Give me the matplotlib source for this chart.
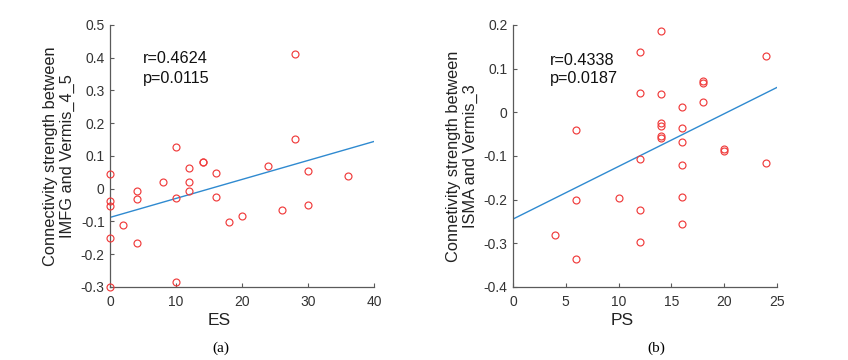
import numpy as np
import matplotlib
matplotlib.use("Agg")
import matplotlib.pyplot as plt

plt.rcParams["font.family"] = ["Liberation Sans", "DejaVu Sans"]
plt.rcParams["axes.unicode_minus"] = False

# panel (a): ES vs IMFG-Vermis_4_5
es = [28, 10, 28, 14, 14, 12, 16, 0, 8, 12, 24, 30, 36, 4, 12, 4, 10, 16, 0, 0,
      30, 26, 2, 18, 20, 0, 4, 10, 0]
conn_a = [0.411, 0.127, 0.153, 0.080, 0.082, 0.062, 0.047, 0.045, 0.021, 0.021,
          0.070, 0.0525, 0.040, -0.008, -0.008, -0.032, -0.030, -0.025, -0.039, -0.052,
          -0.050, -0.064, -0.112, -0.101, -0.084, -0.152, -0.165, -0.285, -0.299]

# panel (b): PS vs ISMA-Vermis_3
ps = [14, 12, 24, 18, 18, 12, 14, 18, 16, 14, 14, 6, 16, 14, 14, 16, 20, 20,
      12, 16, 24, 10, 16, 6, 12, 16, 4, 12, 6]
conn_b = [0.187, 0.138, 0.128, 0.071, 0.066, 0.044, 0.042, 0.024, 0.012, -0.025,
          -0.032, -0.041, -0.037, -0.055, -0.060, -0.068, -0.084, -0.089, -0.106, -0.122,
          -0.117, -0.197, -0.195, -0.202, -0.223, -0.255, -0.280, -0.297, -0.335]

panels = [
    dict(x=es, y=conn_a, xlim=(0, 40), xticks=[0, 10, 20, 30, 40],
         ylim=(-0.3, 0.5), yticks=np.arange(-0.3, 0.51, 0.1),
         xlabel="ES", ylabel="Connectivity strength between\nIMFG and Vermis_4_5",
         stats="r=0.4624\np=0.0115", txy=(5.0, 0.367), ls=1.4, cap="(a)",
         pos=[0.130, 0.203, 0.311, 0.728], capx=221),
    dict(x=ps, y=conn_b, xlim=(0, 25), xticks=[0, 5, 10, 15, 20, 25],
         ylim=(-0.4, 0.2), yticks=np.arange(-0.4, 0.21, 0.1),
         xlabel="PS", ylabel="Connetivity strength between\nISMA and Vermis_3",
         stats="r=0.4338\np=0.0187", txy=(3.5, 0.098), ls=1.25, cap="(b)",
         pos=[0.605, 0.203, 0.311, 0.728], capx=656),
]

def fmt(v):
    v = round(v, 1)
    return "0" if abs(v) < 1e-9 else "{:g}".format(v)

fig = plt.figure(figsize=(8.48, 3.6), dpi=100)
for p in panels:
    ax = fig.add_axes(p["pos"])
    x = np.array(p["x"], float); y = np.array(p["y"], float)
    ax.plot(x, y, "o", mfc="none", mec="#f03c3c", ms=5, mew=0.85, clip_on=False, zorder=3)
    k, b = np.polyfit(x, y, 1)
    xx = np.array(p["xlim"], float)
    ax.plot(xx, k*xx + b, color="#2f8ad0", lw=1.0)
    ax.set_xlim(*p["xlim"]); ax.set_ylim(*p["ylim"])
    ax.set_xticks(p["xticks"]); ax.set_yticks(p["yticks"])
    ax.set_yticklabels([fmt(v) for v in p["yticks"]])
    for s in ["top", "right"]:
        ax.spines[s].set_visible(False)
    for s in ["left", "bottom"]:
        ax.spines[s].set_color("#5a5a5a"); ax.spines[s].set_linewidth(0.9)
    ax.tick_params(direction="in", length=3, color="#5a5a5a", labelcolor="#333333", labelsize=10)
    ax.tick_params(axis="x", pad=6); ax.tick_params(axis="y", pad=4)
    ax.set_xlabel(p["xlabel"], fontsize=12.5, color="#222222", va="center")
    ax.xaxis.set_label_coords(0.414, -0.13)
    ax.set_ylabel(p["ylabel"], fontsize=11.8, color="#222222", va="center", linespacing=1.15)
    ax.yaxis.set_label_coords(-0.193, 0.5)
    ax.text(p["txy"][0], p["txy"][1], p["stats"], fontsize=11.7, va="center", ha="left",
            linespacing=p["ls"], color="#111111")
    fig.text(p["capx"]/848, 1-348/360, p["cap"], family=["Liberation Serif", "DejaVu Serif"],
             fontsize=11, ha="center", va="center")

fig.savefig("out.png", dpi=100)
